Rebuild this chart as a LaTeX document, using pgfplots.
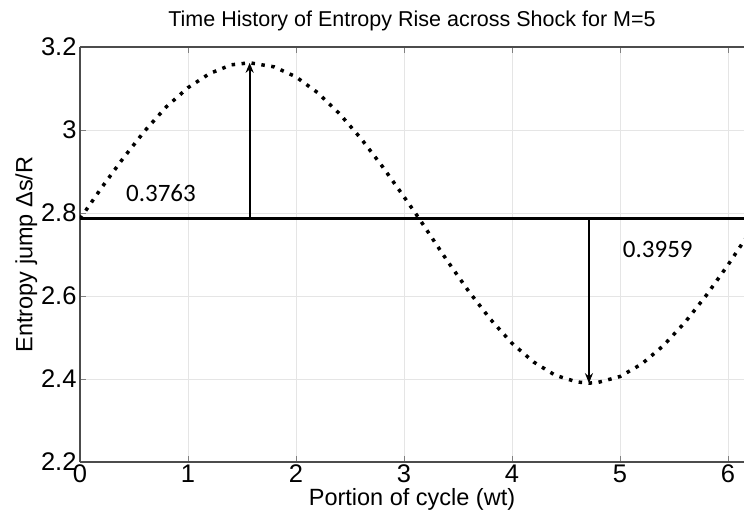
\documentclass[border=0pt]{standalone}
\usepackage{fontspec}
\setmainfont{Liberation Sans}
\newfontfamily\calfont{Carlito}
\usepackage{pgfplots}
\pgfplotsset{compat=1.18}
\usetikzlibrary{arrows.meta}
\begin{document}
\begin{tikzpicture}
\useasboundingbox (-80pt,-53pt) rectangle (664pt,462pt);
\begin{axis}[
 at={(0pt,0pt)}, anchor=south west,
 scale only axis, width=664pt, height=415pt,
 xmin=0, xmax=6.148, ymin=2.2, ymax=3.2,
 xtick={0,1,2,3,4,5,6}, ytick={2.2,2.4,2.6,2.8,3,3.2},
 axis x line=box, axis y line=left,
 x axis line style={-}, y axis line style={-},
 axis line style={draw=black!70, line width=1.2pt},
 tick align=inside, major tick length=6pt,
 tick style={black!50, line width=0.6pt},
 grid=major, major grid style={black!10, line width=0.6pt},
 tick label style={font=\fontsize{25.5}{28}\selectfont},
 /pgf/number format/assume math mode=true,
 xticklabel style={yshift=1pt},
 yticklabel style={xshift=0pt},
 title={Time History of Entropy Rise across Shock for M=5},
 title style={font=\fontsize{21.5}{24}\selectfont, yshift=7pt},
 xlabel={Portion of cycle (wt)}, ylabel={Entropy jump Δs/R},
 label style={font=\fontsize{23.5}{26}\selectfont},
 xlabel style={yshift=1pt},
 ylabel style={yshift=-3pt},
]
\addplot[black, line width=3.5pt, dash pattern=on 3.5pt off 6.5pt] coordinates {
(0,2.786) (0.2,2.861) (0.4,2.932) (0.6,2.998) (0.8,3.056) (1.0,3.102) (1.2,3.136) (1.4,3.157) (1.5708,3.162)
(1.8,3.152) (2.0,3.128) (2.2,3.090) (2.4,3.040) (2.6,2.980) (2.8,2.912) (3.0,2.839) (3.1416,2.786)
(3.2,2.763) (3.4,2.685) (3.6,2.611) (3.8,2.544) (4.0,2.486) (4.2,2.441) (4.4,2.409) (4.6,2.393) (4.7124,2.390)
(4.8,2.392) (5.0,2.406) (5.2,2.436) (5.4,2.480) (5.6,2.536) (5.8,2.602) (6.0,2.675) (6.2,2.753) (6.2832,2.786)
};
\addplot[black, line width=2.8pt] coordinates {(0,2.786) (6.3,2.786)};
\addplot[black, line width=2pt, -{Stealth[length=10pt,width=8pt]}] coordinates {(1.5708,2.786) (1.5708,3.162)};
\addplot[black, line width=2pt, -{Stealth[length=10pt,width=8pt]}] coordinates {(4.7124,2.786) (4.7124,2.390)};
\node[font=\calfont\fontsize{25}{28}\selectfont] at (axis cs:0.75,2.848) {0.3763};
\node[font=\calfont\fontsize{25}{28}\selectfont] at (axis cs:5.35,2.711) {0.3959};
\end{axis}
\end{tikzpicture}
\end{document}
